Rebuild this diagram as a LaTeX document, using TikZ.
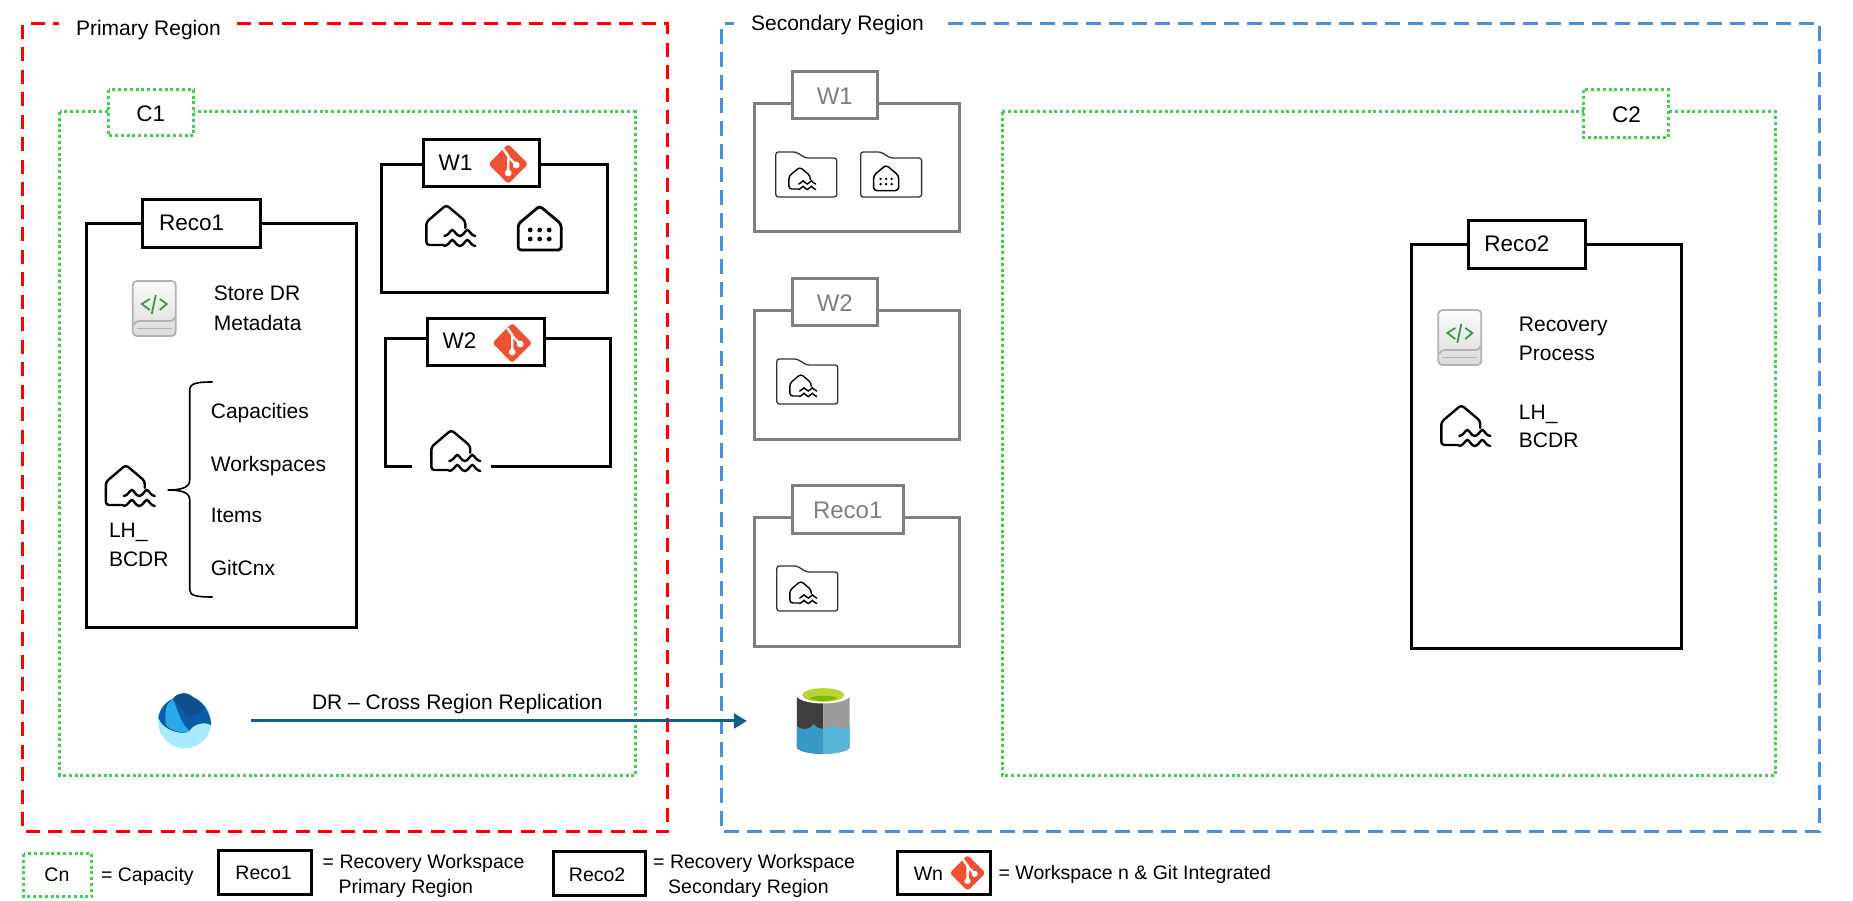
\documentclass[tikz,border=0pt]{standalone}
\usepackage{fontspec}
\setmainfont{Liberation Sans}
\usetikzlibrary{arrows.meta}
\definecolor{regionred}{HTML}{FF0000}
\definecolor{regionblue}{HTML}{4A90D9}
\definecolor{capgreen}{HTML}{3CD24C}
\definecolor{greybox}{HTML}{7F7F7F}
\definecolor{gitred}{HTML}{F05133}
\definecolor{replblue}{HTML}{156082}
\definecolor{codegreen}{HTML}{3C9A3C}
\definecolor{fabdark}{HTML}{0B5CAB}
\definecolor{fabnavy}{HTML}{0F4E8F}
\definecolor{fabband}{HTML}{2AA8E8}
\definecolor{fablight}{HTML}{A6EAFB}
\definecolor{dbdark}{HTML}{3E3E3E}
\definecolor{dbgrey}{HTML}{9C9C9C}
\definecolor{dbwaterl}{HTML}{3999C6}
\definecolor{dbwaterr}{HTML}{59B4D9}
\definecolor{dblime}{HTML}{B8D432}
\definecolor{dblimein}{HTML}{7FBA00}
\tikzset{
	reglbl/.style={inner sep=0pt, anchor=west, align=left, font=\fontsize{21}{30}\selectfont},
	midlbl/.style={inner sep=0pt, font=\fontsize{21}{30}\selectfont},
	tablbl/.style={inner sep=0pt, font=\fontsize{22.5}{30}\selectfont},
	greylbl/.style={inner sep=0pt, text=greybox, font=\fontsize{24}{30}\selectfont},
	keylbl/.style={inner sep=0pt, anchor=west, align=left, font=\fontsize{19.5}{25}\selectfont},
	redregion/.style={color=regionred, line width=3pt, dash pattern=on 14pt off 8.5pt},
	blueregion/.style={color=regionblue, line width=3pt, dash pattern=on 15pt off 8pt},
	capline/.style={color=capgreen, line width=3pt, dash pattern=on 3pt off 2.8pt},
	wsline/.style={line width=3pt, color=black},
	greyline/.style={line width=3pt, color=greybox},
	lakehouse/.pic={
		\draw[rounded corners=3pt, line cap=round] (17,40) -- (0,40) -- (0,17) -- (20,0) -- (39,16) -- (39,23);
		\foreach \wy in {0,10} {
			\draw[line cap=round] (18,31+\wy) .. controls (22,31+\wy) and (24,25+\wy) .. (26,25+\wy)
				.. controls (28,25+\wy) and (30,31+\wy) .. (33.5,31+\wy)
				.. controls (37,31+\wy) and (39,25+\wy) .. (41,25+\wy)
				.. controls (43,25+\wy) and (45,31+\wy) .. (49,31+\wy);
		}
	},
	warehouse/.pic={
		\draw[rounded corners=3pt] (0,18) -- (21.5,0) -- (43,18) -- (43,44) -- (0,44) -- cycle;
		\foreach \dx in {12,21.5,31} {
			\fill (\dx,24) circle (2.4);
			\fill (\dx,33) circle (2.4);
		}
	},
	gitmark/.pic={
		\fill[gitred, rounded corners=3pt] (0,-20) -- (20,0) -- (0,20) -- (-20,0) -- cycle;
		\draw[white, line width=2.4pt] (-5,-15) -- (0,-8) -- (0,9);
		\draw[white, line width=2.4pt] (0,-7) -- (8,1);
		\fill[white] (0,9) circle (3.4);
		\fill[white] (8,1) circle (3.4);
	},
	bookicon/.pic={
		\shade[top color=black!2, bottom color=black!14, rounded corners=4pt] (0,0) rectangle (43,55);
		\draw[color=black!30, line width=1.8pt, rounded corners=4pt] (0,0) rectangle (43,55);
		\draw[color=black!30, line width=1.8pt] (1,44) .. controls (3,40) and (5,40) .. (8,40) -- (38,40) .. controls (41,40) and (42,38) .. (42,36);
		\draw[color=black!30, line width=1.8pt] (4,47.5) -- (39,47.5);
		\draw[color=codegreen, line width=1.8pt] (17,18) -- (9,23) -- (17,29);
		\draw[color=codegreen, line width=1.8pt] (23,14) -- (19,33);
		\draw[color=codegreen, line width=1.8pt] (27,18) -- (34,23) -- (27,29);
	},
	foldericon/.pic={
		\draw[color=black!80, line width=1.3pt, rounded corners=2.5pt] (0,45) -- (0,0) -- (20,0) -- (30,6) -- (61,6) -- (61,45) -- cycle;
	},
	fabricicon/.pic={
		\fill[color=fablight] (0,0) circle (26.5);
		\fill[color=fabdark] (-26.5,-4) .. controls (-25,-14) and (-19,-20) .. (-12,-23)
			.. controls (-8,-29) and (2,-31) .. (8,-25) .. controls (18,-20) and (26,-10) .. (26.5,3)
			.. controls (20,0) and (14,1) .. (8,5) .. controls (5,9) and (2,11) .. (-2,11)
			.. controls (-12,10) and (-22,6) .. (-26.5,-4) -- cycle;
		\fill[color=fabnavy] (-12,-23) .. controls (-8,-29) and (2,-31) .. (8,-25) .. controls (14,-22) and (18,-18) .. (21,-14)
			.. controls (14,-8) and (8,-4) .. (2,-6) .. controls (-3,-12) and (-6,-20) .. (-12,-23) -- cycle;
		\fill[color=fabband] (-12,-23) .. controls (-6,-10) and (-4,2) .. (5,9)
			.. controls (2,11) and (-2,11) .. (-5,10) .. controls (-12,8) and (-18,6) .. (-19,2)
			.. controls (-20,-6) and (-19,-14) .. (-17,-18) -- cycle;
	},
	adlsicon/.pic={
		\fill[color=dbdark] (0,8) -- (26.5,8) -- (26.5,67) .. controls (14,67) and (0,64) .. (0,60) -- cycle;
		\fill[color=dbgrey] (53,8) -- (26.5,8) -- (26.5,67) .. controls (39,67) and (53,64) .. (53,60) -- cycle;
		\fill[color=dbwaterl] (0,39) .. controls (4,43) and (12,44) .. (17,37)
			.. controls (20,41) and (23,42) .. (26.5,42) -- (26.5,67) .. controls (14,67) and (0,64) .. (0,60) -- cycle;
		\fill[color=dbwaterr] (53,39) .. controls (49,42) and (41,43) .. (36,38)
			.. controls (33,41) and (30,42) .. (26.5,42) -- (26.5,67) .. controls (39,67) and (53,64) .. (53,60) -- cycle;
		\fill[white] (26.5,8) ellipse (27 and 8.5);
		\fill[color=dblime] (26.5,8) ellipse (21 and 6.8);
		\fill[color=dblimein] (12,11) .. controls (18,8) and (35,8) .. (41,11) .. controls (35,15) and (18,15) .. (12,11) -- cycle;
	},
}

\begin{document}
\begin{tikzpicture}[x=.9985pt, y=-1pt]
	%%%%% START %%%%%
	\useasboundingbox (0,0) rectangle (1855.8,901);

	% regions
	\draw[redregion] (237,24) -- (669,24) -- (669,832) -- (23,832) -- (23,24) -- (59,24);
	\node[reglbl] (primlbl) at (76,30) {Primary Region};
	\draw[blueregion] (949,24) -- (1822,24) -- (1822,832) -- (723,832) -- (723,24) -- (735,24);
	\node[reglbl] (seclbl) at (752,25) {Secondary Region};

	% capacities
	\draw[capline] (60,112) rectangle (636,776);
	\draw[capline, fill=white] (109,90) rectangle (194,136);
	\node[tablbl] (conelbl) at (151,114) {C1};
	\draw[capline] (1004,112) rectangle (1778,776);
	\draw[capline, fill=white] (1586,90) rectangle (1671,138);
	\node[tablbl] (ctwolbl) at (1629,115) {C2};

	% recovery workspace, primary
	\draw[wsline] (87,224) rectangle (357,628);
	\draw[wsline, fill=white] (143,200) rectangle (261,248);
	\node[tablbl] (recoonelbl) at (192,223) {Reco1};
	\pic at (133,281) {bookicon};
	\node[reglbl] (storelbl) at (214,308) {Store DR\\Metadata};
	\pic[line width=2.4pt] at (106,465) {lakehouse};
	\node[reglbl, font=\fontsize{21}{29}\selectfont] (lhonelbl) at (109,545) {LH\_\\BCDR};
	\draw[line width=1.6pt] (213,382) .. controls (198,382) and (190,383) .. (190,390) -- (190,480)
		.. controls (190,487) and (183,490) .. (168,490) .. controls (183,490) and (190,493) .. (190,500) -- (190,590)
		.. controls (190,596) and (198,597) .. (213,597);
	\node[reglbl] (caplbl) at (211,413) {Capacities};
	\node[reglbl] (wkslbl) at (211,466) {Workspaces};
	\node[reglbl] (itemslbl) at (211,515) {Items};
	\node[reglbl] (gitlbl) at (211,568) {GitCnx};

	% W1, W2
	\draw[wsline] (382,165) rectangle (608,293);
	\draw[wsline, fill=white] (424,140) rectangle (540,187);
	\node[tablbl, anchor=west] (wonelbl) at (439,163) {W1};
	\pic at (509,164) {gitmark};
	\pic[line width=2.4pt] at (427,205) {lakehouse};
	\pic[line width=2.8pt] at (519,206) {warehouse};
	\draw[wsline] (413,467) -- (386,467) -- (386,339) -- (611,339) -- (611,467) -- (492,467);
	\draw[wsline, fill=white] (428,319) rectangle (545,366);
	\node[tablbl, anchor=west] (wtwolbl) at (443,341) {W2};
	\pic at (513,343) {gitmark};
	\pic[line width=2.4pt] at (432,430) {lakehouse};

	% secondary folders
	\draw[greyline] (756,104) rectangle (961,232);
	\draw[greyline, fill=white] (794,72) rectangle (879,119);
	\node[greylbl] (gwonelbl) at (836,96) {W1};
	\pic at (777,152) {foldericon};
	\pic[scale=.55, line width=1.4pt] at (790,167) {lakehouse};
	\pic at (862,152) {foldericon};
	\pic[scale=.58, line width=1.5pt] at (875,165) {warehouse};
	\draw[greyline] (756,311) rectangle (961,440);
	\draw[greyline, fill=white] (794,279) rectangle (879,326);
	\node[greylbl] (gwtwolbl) at (836,303) {W2};
	\pic at (778,359) {foldericon};
	\pic[scale=.55, line width=1.4pt] at (791,374) {lakehouse};
	\draw[greyline] (756,518) rectangle (961,647);
	\draw[greyline, fill=white] (794,486) rectangle (905,534);
	\node[greylbl] (grecolbl) at (849,510) {Reco1};
	\pic at (778,566) {foldericon};
	\pic[scale=.55, line width=1.4pt] at (791,581) {lakehouse};

	% recovery workspace, secondary
	\draw[wsline] (1413.5,245) rectangle (1684.5,649);
	\draw[wsline, fill=white] (1470.5,221) rectangle (1587.5,269);
	\node[tablbl, anchor=west] (recotwolbl) at (1486.5,244) {Reco2};
	\pic at (1440.5,310) {bookicon};
	\node[reglbl, font=\fontsize{21}{29}\selectfont] (recovlbl) at (1521,339) {Recovery\\Process};
	\pic[line width=2.4pt] at (1443.5,405) {lakehouse};
	\node[reglbl, font=\fontsize{21}{28}\selectfont] (lhtwolbl) at (1521,426) {LH\_\\BCDR};

	% replication
	\pic at (185,722) {fabricicon};
	\pic at (798,687) {adlsicon};
	\coordinate (replsrc) at (251,721);
	\coordinate (repltgt) at (748,721);
	\draw[-{Triangle[length=13pt,width=15pt]}, color=replblue, line width=3pt] (replsrc) -- (repltgt);
	\node[midlbl] (repllbl) at (458,704) {DR -- Cross Region Replication};

	% legend
	\draw[capline] (24,854) rectangle (92,897);
	\node[midlbl, font=\fontsize{19.5}{25}\selectfont] (cnlbl) at (57,875) {Cn};
	\node[keylbl] (cnkey) at (101,876) {= Capacity};
	\draw[wsline] (219,851) rectangle (312,895);
	\node[midlbl, font=\fontsize{19.5}{25}\selectfont] (recokeybox) at (264,873) {Reco1};
	\node[keylbl] (recokey) at (323,876) {= Recovery Workspace\\\hspace*{16pt}Primary Region};
	\draw[wsline] (554,852) rectangle (646,896);
	\node[midlbl, font=\fontsize{19.5}{25}\selectfont] (recotwokeybox) at (598,875) {Reco2};
	\node[keylbl] (recotwokey) at (654,876) {= Recovery Workspace\\\hspace*{15pt}Secondary Region};
	\draw[wsline] (899,852) rectangle (992,895);
	\node[keylbl] (wnkeybox) at (915,874) {Wn};
	\pic[scale=.9] at (969,873) {gitmark};
	\node[keylbl] (wnkey) at (1000,874) {= Workspace n \& Git Integrated};
	%%%%% END %%%%%
\end{tikzpicture}
\end{document}
